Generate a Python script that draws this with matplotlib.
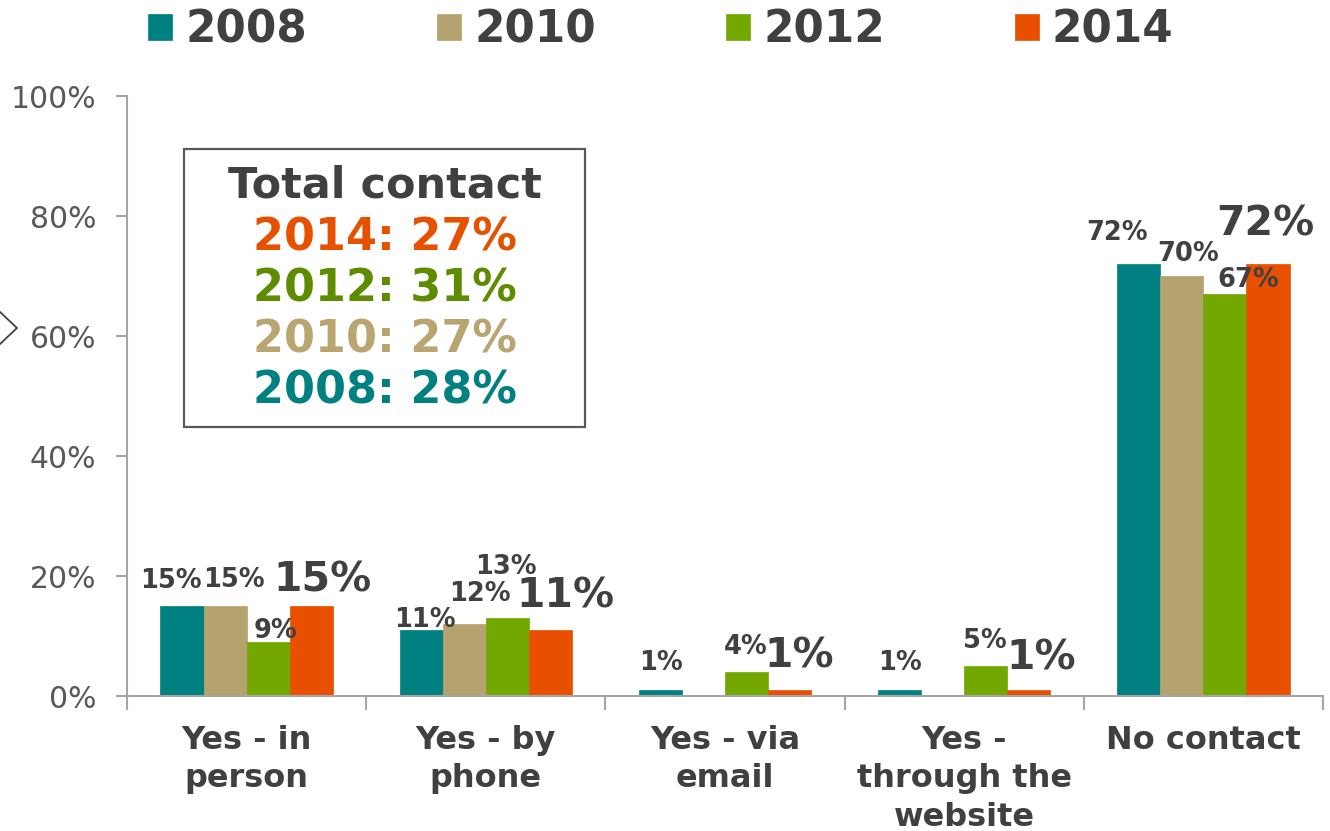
import matplotlib
matplotlib.use("Agg")
import matplotlib.pyplot as plt
from matplotlib.lines import Line2D
from matplotlib.patches import Rectangle
import numpy as np

# survey data: share of respondents by contact type and year
categories = ["Yes - in\nperson", "Yes - by\nphone", "Yes - via\nemail",
              "Yes -\nthrough the\nwebsite", "No contact"]
years = ["2008", "2010", "2012", "2014"]
values_2008 = [15, 11, 1, 1, 72]
values_2010 = [15, 12, None, None, 70]
values_2012 = [9, 13, 4, 5, 67]
values_2014 = [15, 11, 1, 1, 72]
total_years = ["2014", "2012", "2010", "2008"]
total_values = [27, 31, 27, 28]

series = [values_2008, values_2010, values_2012, values_2014]
bar_colors = ["#008080", "#B5A36F", "#72A800", "#E85000"]
text_colors = {"2014": "#E65100", "2012": "#5E8C00", "2010": "#B8A570", "2008": "#008080"}
DARK = "#404040"
AXIS = "#A6A6A6"

# hand placed label nudges (pixels, relative to the bar top)
label_nudge = [
    [(-11, 25), (4, 10), (1, 27), (0, 27), (-22, 31)],
    [(9, 26), (16, 30), None, None, (6, 22)],
    [(7, 11), (-1, 51), (-1, 25), (-1, 25), (23, 14)],
    [(11, 26), (15, 34), (10, 33), (12, 31), (-3, 39)],
]

W, H = 1330, 831
fig = plt.figure(figsize=(W / 100, H / 100), dpi=100)
ax = fig.add_axes([127 / W, 1 - 696 / H, (1323 - 127) / W, (696 - 96) / H])

x = np.arange(len(categories))
width = 0.18
handles = []
for i, (vals, col) in enumerate(zip(series, bar_colors)):
    heights = [v if v is not None else 0 for v in vals]
    pos = x + (i - 1.5) * width
    b = ax.bar(pos, heights, width, color=col, edgecolor=col, linewidth=0.5,
               label=years[i], zorder=2)
    handles.append(b)
    big = (i == len(series) - 1)
    for j, v in enumerate(vals):
        if v is None:
            continue
        dx, dy = label_nudge[i][j]
        ax.annotate(f"{v}%", (pos[j], v), xytext=(dx, dy),
                    textcoords="offset pixels", ha="center", va="center",
                    fontsize=29.5 if big else 18.5, fontweight="bold",
                    color=DARK, zorder=3)

ax.set_xlim(-0.5, len(categories) - 0.5)
ax.set_ylim(0, 100)
ax.set_yticks(np.arange(0, 101, 20))
ax.set_yticklabels([f"{t}%" for t in range(0, 101, 20)])
ax.tick_params(axis="y", direction="out", length=8, width=1.5, color=AXIS,
               pad=14, labelsize=21.5, labelcolor="#595959")

ax.set_xticks(x)
ax.set_xticklabels(categories, fontsize=23, fontweight="bold", color=DARK,
                   linespacing=1.3)
ax.tick_params(axis="x", length=0, pad=21)
ax.set_xticks(np.arange(-0.5, len(categories)), minor=True)
ax.tick_params(axis="x", which="minor", direction="out", length=10, width=1.5,
               color=AXIS)

for side in ["top", "right"]:
    ax.spines[side].set_visible(False)
for side in ["left", "bottom"]:
    ax.spines[side].set_color(AXIS)
    ax.spines[side].set_linewidth(1.5)

fig.legend(handles=handles, labels=years, loc="center",
           bbox_to_anchor=(0.497, 1 - 30 / H), ncol=4, frameon=False,
           prop={"size": 31.5, "weight": "bold"}, labelcolor=DARK,
           handlelength=0.55, handleheight=0.55, handletextpad=0.3,
           columnspacing=2.97, borderpad=0)

# summary box with totals per year
fig.patches.append(Rectangle((184 / W, 1 - 427 / H), (585 - 184) / W,
                             (427 - 149) / H, transform=fig.transFigure,
                             facecolor="white", edgecolor="#595959",
                             linewidth=1.6, zorder=5))
cx = 385 / W
fig.text(cx, 1 - 186 / H, "Total contact", ha="center", va="center",
         fontsize=31, fontweight="bold", color=DARK, zorder=6)
for k, (yr, val) in enumerate(zip(total_years, total_values)):
    fig.text(cx, 1 - (238 + 51 * k) / H, f"{yr}: {val}%", ha="center",
             va="center", fontsize=32, fontweight="bold",
             color=text_colors[yr], zorder=6)

# small chevron at the left edge of the slide
fig.lines.append(Line2D([0, 17 / W, 0], [1 - 312 / H, 1 - 328 / H, 1 - 344 / H],
                        transform=fig.transFigure, color="#404040",
                        linewidth=1.3))

fig.savefig("out.png", dpi=100)
